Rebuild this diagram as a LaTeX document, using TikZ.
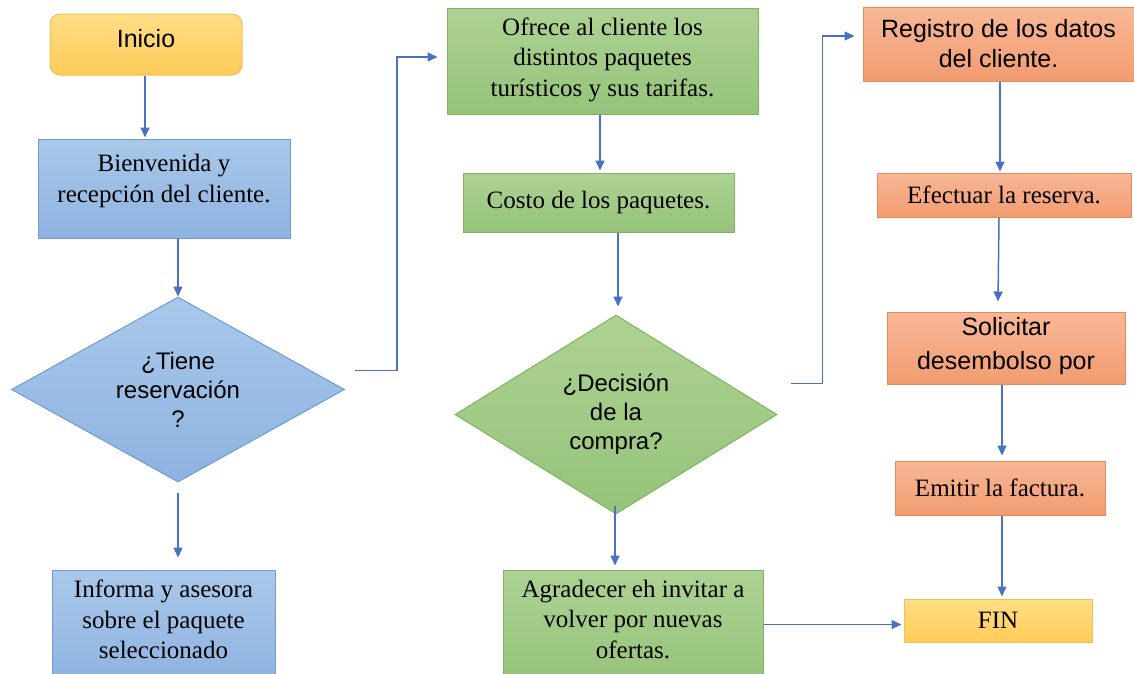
\documentclass[tikz,border=0pt]{standalone}
\usepackage{fontspec}
\setmainfont{Liberation Serif}
\setsansfont{Liberation Sans}
\usepackage{tikz}
\usetikzlibrary{positioning,shapes.geometric,arrows.meta}

\definecolor{flowblue}{HTML}{4A72C4}
\definecolor{bluetop}{HTML}{A9C8EA}
\definecolor{bluebot}{HTML}{8EB3E0}
\definecolor{blueline}{HTML}{6E9BD1}
\definecolor{greentop}{HTML}{ADD293}
\definecolor{greenbot}{HTML}{96C37A}
\definecolor{greenline}{HTML}{80B262}
\definecolor{orangetop}{HTML}{F8B796}
\definecolor{orangebot}{HTML}{F29C70}
\definecolor{orangeline}{HTML}{E8895A}
\definecolor{yellowtop}{HTML}{FFDE86}
\definecolor{yellowbot}{HTML}{FFCB58}
\definecolor{yellowline}{HTML}{F2C250}

\tikzset{
  box/.style={rectangle, draw, line width=1pt, align=center, inner sep=0pt,
    font=\fontsize{25}{30.5}\selectfont},
  sansbox/.style={box, font=\sffamily\fontsize{25}{30}\selectfont},
  bluebox/.style={top color=bluetop, bottom color=bluebot, draw=blueline},
  greenbox/.style={top color=greentop, bottom color=greenbot, draw=greenline},
  orangebox/.style={top color=orangetop, bottom color=orangebot, draw=orangeline},
  yellowbox/.style={top color=yellowtop, bottom color=yellowbot, draw=yellowline},
  decision/.style={diamond, aspect=1.8, inner sep=0pt, line width=1pt,
    font=\sffamily\fontsize{24}{29}\selectfont, align=center},
  flow/.style={draw=flowblue, line width=1.5pt, -{Triangle[length=10pt,width=9pt]}}
}

\begin{document}
\begin{tikzpicture}[x=1pt, y=-1pt]
  \useasboundingbox (0,0) rectangle (1134,673);

  % first column
  \node[sansbox, yellowbox, rounded corners=10pt, minimum width=192pt, minimum height=61pt]
        (inicio) at (146,44.5) {\raisebox{13pt}{Inicio}};
  \node[box, bluebox, minimum width=252pt, minimum height=99pt]
        (bien) [below=63pt of inicio, xshift=18pt] {Bienvenida y\\recepción del cliente.\\[-10pt]};
  \node[decision, bluebox, minimum width=333pt, minimum height=185pt]
        (reserva) [below=58pt of bien, xshift=14pt] {¿Tiene\\reservación\\?};
  \node[box, bluebox, minimum width=223pt, minimum height=115pt]
        (informa) [below=87pt of reserva, xshift=-14.5pt] {Informa y asesora\\sobre el paquete\\seleccionado\\[-14pt]};

  % second column
  \node[box, greenbox, minimum width=311pt, minimum height=106pt]
        (ofrece) at (602.5,61) {Ofrece al cliente los\\distintos paquetes\\turísticos y sus tarifas.\\[-22pt]};
  \node[box, greenbox, minimum width=271pt, minimum height=59pt]
        (costo) [below=58pt of ofrece, xshift=-4pt] {\raisebox{3pt}{Costo de los paquetes.}};
  \node[decision, greenbox, minimum width=322pt, minimum height=199pt]
        (compra) [below=82pt of costo, xshift=17.5pt] {¿Decisión\\de la\\compra?};
  \node[box, greenbox, minimum width=260pt, minimum height=115pt]
        (agradece) [below=55pt of compra, xshift=17pt] {Agradecer eh invitar a\\volver por nuevas\\ofertas.\\[-14pt]};

  % third column
  \node[sansbox, orangebox, minimum width=271pt, minimum height=74pt]
        (registro) at (998.5,44) {Registro de los datos\\del cliente.};
  \node[box, orangebox, minimum width=254pt, minimum height=44pt]
        (efectua) [below=91pt of registro, xshift=5.5pt] {Efectuar la reserva.};
  \node[sansbox, orangebox, minimum width=238pt, minimum height=72pt, font=\sffamily\fontsize{25}{34}\selectfont]
        (solicita) [below=94pt of efectua, xshift=2pt] {Solicitar\\desembolso por\\[-24pt]};
  \node[box, orangebox, minimum width=210pt, minimum height=54pt]
        (emite) [below=76pt of solicita, xshift=-6pt] {Emitir la factura.};
  \node[box, yellowbox, minimum width=188pt, minimum height=43pt]
        (fin) [below=83pt of emite, xshift=-2pt] {FIN};

  % connectors
  \draw[flow] ([xshift=-1pt]inicio.south) -- ([xshift=-1pt,yshift=1pt]inicio.south |- bien.north);
  \draw[flow] (reserva.north |- bien.south) -- (reserva.north);
  \draw[flow] ([yshift=-10pt]reserva.south) -- ([yshift=12pt]reserva.south |- informa.north);
  \draw[flow] ([xshift=10pt,yshift=19pt]reserva.east) -- ++(42,0) |- ([xshift=-9pt,yshift=4pt]ofrece.west);
  \draw[flow] ([xshift=-2.5pt]ofrece.south) -- ([xshift=-2.5pt,yshift=2pt]ofrece.south |- costo.north);
  \draw[flow] ([xshift=2pt]compra.north |- costo.south) -- ([xshift=2pt,yshift=8pt]compra.north);
  \draw[flow] ([xshift=-1pt,yshift=9pt]compra.south) -- ([xshift=-1pt,yshift=4pt]compra.south |- agradece.north);
  \draw[flow] ([xshift=13pt,yshift=31pt]compra.east) -- ++(32,0) |- ([xshift=-8pt,yshift=8pt]registro.west);
  \draw[flow] ([xshift=1.5pt]registro.south) -- ([xshift=1.5pt,yshift=1pt]registro.south |- efectua.north);
  \draw[flow] ([xshift=-5pt]efectua.south) -- ([xshift=-8pt,yshift=10pt]solicita.north);
  \draw[flow] ([xshift=-4pt]solicita.south) -- ([xshift=2pt,yshift=5pt]emite.north);
  \draw[flow] ([xshift=2pt]emite.south) -- ([xshift=4pt,yshift=2pt]fin.north);
  \draw[flow] ([yshift=3pt]agradece.east) -- ([xshift=-2pt,yshift=3pt]agradece.east -| fin.west);
\end{tikzpicture}
\end{document}
